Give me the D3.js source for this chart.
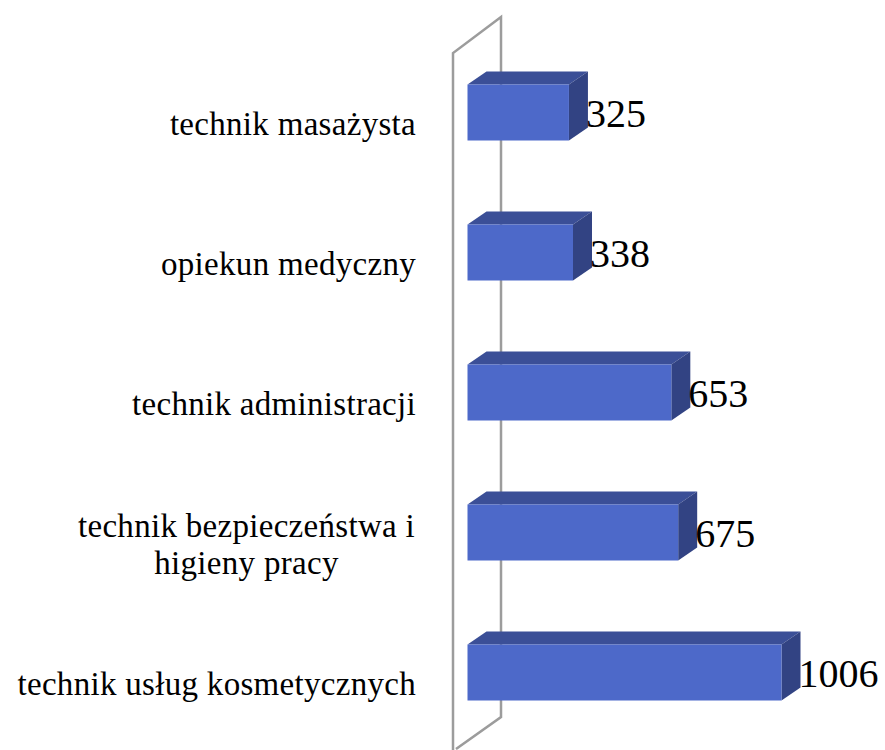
<!DOCTYPE html>
<html>
<head>
<meta charset="utf-8">
<script src="https://cdnjs.cloudflare.com/ajax/libs/d3/7.8.5/d3.min.js"></script>
<style>
  html, body { margin: 0; padding: 0; background: #fff; }
  svg { display: block; }
  text { font-family: "Liberation Serif", serif; fill: #000; }
</style>
</head>
<body>
<svg width="885" height="750"></svg>
<script>
// top to bottom, as in the picture
const categories = ['technik masażysta', 'opiekun medyczny', 'technik administracji', 'technik bezpieczeństwa i|higieny pracy', 'technik usług kosmetycznych'];
const values = [325, 338, 653, 675, 1006];

const svg = d3.select('svg');

const depthX = 19, depthY = 13; // 3d offset of the bars

const x = d3.scaleLinear().domain([0, 1006]).range([467.5, 781.5]);
const y = d3.scaleBand().domain(categories).range([0.5, 784.5]).padding(0.6);

// back wall
const wallLeft = x(0) - 14.5, wallRight = x(0) + 33.5;
svg.append('path')
    .attr('d', `M${wallLeft},760V53L${wallRight},17V717L${wallLeft + 3},749`)
    .attr('fill', 'none')
    .attr('stroke', '#9c9c9c')
    .attr('stroke-width', 2.5);

const bars = svg.append('g').selectAll('g')
    .data(categories)
    .enter().append('g');

// top face
bars.append('path')
    .attr('fill', '#3b4f97')
    .attr('d', function(d, i) {
        const x0 = x(0), x1 = x(values[i]), t = y(d);
        return `M${x0},${t}L${x0 + depthX},${t - depthY}H${x1 + depthX}L${x1},${t}Z`;
    });

// side face
bars.append('path')
    .attr('fill', '#324383')
    .attr('d', function(d, i) {
        const x1 = x(values[i]), t = y(d), b = t + y.bandwidth();
        return `M${x1},${t}L${x1 + depthX},${t - depthY}V${b - depthY}L${x1},${b}Z`;
    });

// front face
bars.append('rect')
    .attr('fill', '#4d69c9')
    .attr('x', x(0))
    .attr('y', function(d) { return y(d); })
    .attr('width', function(d, i) { return x(values[i]) - x(0); })
    .attr('height', y.bandwidth());

// value labels
bars.append('text')
    .attr('x', function(d, i) { return x(values[i]) + 17; })
    .attr('y', function(d) { return y(d) + y.bandwidth() / 2 + 14.5; })
    .attr('font-size', 40)
    .text(function(d, i) { return values[i]; });

// category labels, the two line one is centred on its block
svg.append('g').selectAll('g')
    .data(categories)
    .enter().append('g')
    .attr('font-size', 33)
    .attr('letter-spacing', 0.3)
    .each(function(d) {
        const lines = d.split('|');
        const mid = y(d) + y.bandwidth() / 2;
        const g = d3.select(this);
        if (lines.length === 1) {
            g.append('text')
                .attr('x', 416)
                .attr('y', mid + 22.5)
                .attr('text-anchor', 'end')
                .text(lines[0]);
        } else {
            lines.forEach(function(l, i) {
                g.append('text')
                    .attr('x', 246.5)
                    .attr('y', mid + 4.5 + i * 37)
                    .attr('text-anchor', 'middle')
                    .text(l);
            });
        }
    });
</script>
</body>
</html>
